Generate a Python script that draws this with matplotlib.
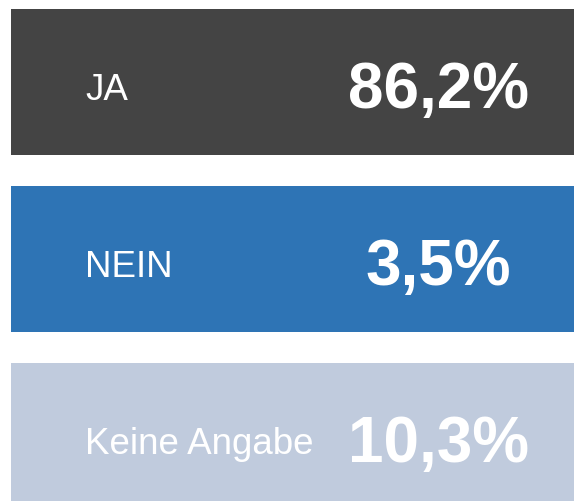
import matplotlib
matplotlib.use("Agg")
import matplotlib.pyplot as plt

categories = ["JA", "NEIN", "Keine Angabe"]
values = [86.2, 3.5, 10.3]
colors = ["#444444", "#2E74B5", "#C0CBDD"]

def fmt(v):
    return f"{v:.1f}".replace(".", ",") + "%"

fig = plt.figure(figsize=(5.74, 5.02), dpi=100)
ax = fig.add_axes([11 / 574, 0, 1 - 11 / 574, 1 - 10 / 502])
ax.set_axis_off()

pitch_px = 177.0
bar_h = 146.0 / pitch_px
ypos = list(range(len(categories)))
ax.barh(ypos, [1] * len(categories), left=0, height=bar_h, color=colors, edgecolor="none")

ax.set_xlim(0, 1)
ax.set_ylim(2 + (502 - 436.5) / pitch_px, -bar_h / 2)

label_x = 74 / 563
value_x = (438 - 11) / 563
for y, cat, v in zip(ypos, categories, values):
    ax.text(label_x, y + 0.02, cat, ha="left", va="center_baseline", color="white",
            fontsize=26.5, family="Liberation Sans")
    ax.text(value_x, y + 0.01, fmt(v), ha="center", va="center_baseline", color="white",
            fontsize=46, fontweight="bold", family="Liberation Sans")

fig.savefig("out.png", dpi=100)
